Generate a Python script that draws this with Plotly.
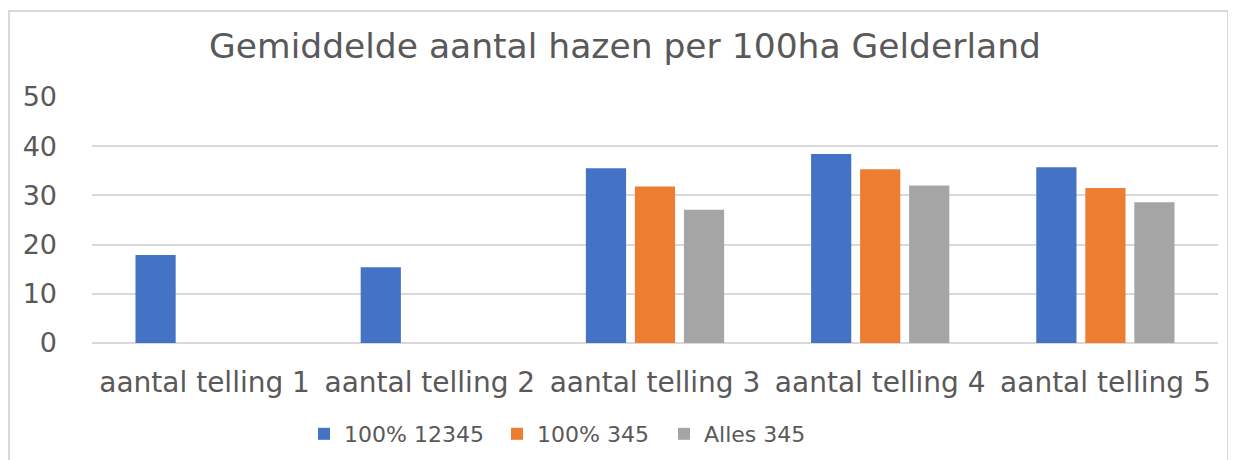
import plotly.graph_objects as go

categories = ["aantal telling 1", "aantal telling 2", "aantal telling 3", "aantal telling 4", "aantal telling 5"]
series_names = ["100% 12345", "100% 345", "Alles 345"]
s_100_12345 = [17.9, 15.4, 35.5, 38.4, 35.7]
s_100_345 = [None, None, 31.8, 35.3, 31.5]
s_alles_345 = [None, None, 27.1, 32.0, 28.6]
colors = ["#4472C4", "#ED7D31", "#A5A5A5"]
y_ticks = [0, 10, 20, 30, 40, 50]

FONT = "DejaVu Sans"
TXT = "#595959"

# page has an 8px body margin; work in figure coordinates = screen - 8
OFF = 8
W, H = 1228, 452
L, R, T, B = 92 - OFF, W - (1218 - OFF), 97 - OFF, H - (343 - OFF)
pw = W - L - R
ph = H - T - B


def px_x(sx):
    return (sx - OFF - L) / pw


def px_y(sy):
    return 1 - (sy - OFF - T) / ph


legend_ids = ["legend", "legend2", "legend3"]
legend_screen_x = [304, 497, 664]

fig = go.Figure()
for name, vals, col, lid in zip(series_names, [s_100_12345, s_100_345, s_alles_345], colors, legend_ids):
    fig.add_trace(go.Bar(name=name, x=categories, y=vals, legend=lid,
                         marker=dict(color=col, line=dict(width=0))))

legend_common = dict(orientation="h", xanchor="left", yanchor="middle", y=px_y(434),
                     font=dict(family=FONT, size=22, color=TXT), bgcolor="rgba(0,0,0,0)")

fig.update_layout(
    width=W, height=H,
    margin=dict(l=L, r=R, t=T, b=B, autoexpand=False),
    paper_bgcolor="white", plot_bgcolor="white",
    barmode="group", bargap=0.347, bargroupgap=0.18,
    font=dict(family=FONT, color=TXT, size=24),
    title=dict(text="Gemiddelde aantal hazen per 100ha Gelderland",
               font=dict(family=FONT, size=34.5, color=TXT),
               xref="paper", x=px_x(625), xanchor="center",
               yref="container", y=1 - (46 - OFF) / H, yanchor="middle"),
    showlegend=True,
    legend=dict(x=px_x(legend_screen_x[0]), **legend_common),
    legend2=dict(x=px_x(legend_screen_x[1]), **legend_common),
    legend3=dict(x=px_x(legend_screen_x[2]), **legend_common),
    xaxis=dict(showline=False, showgrid=False, ticks="", zeroline=False, automargin=False,
               tickfont=dict(family=FONT, size=28, color=TXT), ticklabelstandoff=20),
    yaxis=dict(range=[0, 50], tickvals=y_ticks, showgrid=True, gridcolor="#d9d9d9", gridwidth=2,
               zeroline=True, zerolinecolor="#d9d9d9", zerolinewidth=2, showline=False, automargin=False,
               tickfont=dict(family=FONT, size=27, color=TXT), ticklabelstandoff=34),
)

# chart area frame (extends beyond the bottom of the view)
fig.add_shape(type="rect", xref="paper", yref="paper",
              x0=px_x(9), x1=px_x(1228),
              y0=px_y(500), y1=px_y(11),
              line=dict(color="#d9d9d9", width=2), fillcolor="rgba(0,0,0,0)", layer="below")

fig.write_html("out.html")
